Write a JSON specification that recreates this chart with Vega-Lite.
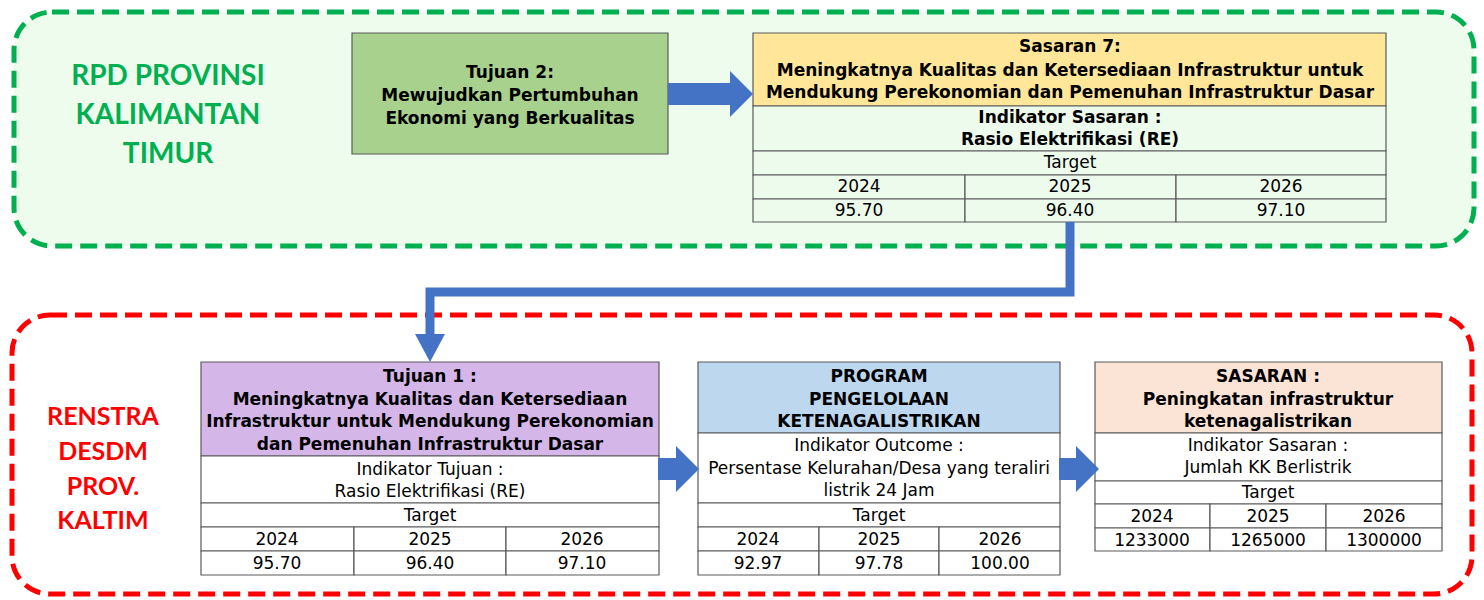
{
  "$schema": "https://vega.github.io/schema/vega-lite/v6.json",
  "width": 1484,
  "height": 600,
  "autosize": {"type": "fit", "contains": "padding"},
  "padding": 0,
  "background": "#ffffff",
  "config": {"view": {"stroke": null}},
  "resolve": {"scale": {"fill": "independent", "stroke": "independent"}},
  "datasets": {
    "containers": [
      {"name": "rpd", "x": 14, "x2": 1474, "y": 12, "y2": 246},
      {"name": "renstra", "x": 12, "x2": 1472, "y": 315, "y2": 594}
    ],
    "cells": [
      {"role": "tujuan2", "x": 352, "x2": 668, "y": 33, "y2": 154},
      {"role": "sasaran7", "x": 753, "x2": 1386, "y": 33, "y2": 106},
      {"role": "lightgreen", "x": 753, "x2": 1386, "y": 106, "y2": 151},
      {"role": "lightgreen", "x": 753, "x2": 1386, "y": 151, "y2": 175},
      {"role": "lightgreen", "x": 753, "x2": 965, "y": 175, "y2": 199},
      {"role": "lightgreen", "x": 965, "x2": 1176, "y": 175, "y2": 199},
      {"role": "lightgreen", "x": 1176, "x2": 1386, "y": 175, "y2": 199},
      {"role": "lightgreen", "x": 753, "x2": 965, "y": 199, "y2": 222},
      {"role": "lightgreen", "x": 965, "x2": 1176, "y": 199, "y2": 222},
      {"role": "lightgreen", "x": 1176, "x2": 1386, "y": 199, "y2": 222},
      {"role": "purple", "x": 201, "x2": 659, "y": 362, "y2": 456},
      {"role": "white", "x": 201, "x2": 659, "y": 456, "y2": 503},
      {"role": "white", "x": 201, "x2": 659, "y": 503, "y2": 527},
      {"role": "white", "x": 201, "x2": 354, "y": 527, "y2": 551},
      {"role": "white", "x": 354, "x2": 506, "y": 527, "y2": 551},
      {"role": "white", "x": 506, "x2": 659, "y": 527, "y2": 551},
      {"role": "white", "x": 201, "x2": 354, "y": 551, "y2": 575},
      {"role": "white", "x": 354, "x2": 506, "y": 551, "y2": 575},
      {"role": "white", "x": 506, "x2": 659, "y": 551, "y2": 575},
      {"role": "blue", "x": 698, "x2": 1060, "y": 362, "y2": 433},
      {"role": "white", "x": 698, "x2": 1060, "y": 433, "y2": 503},
      {"role": "white", "x": 698, "x2": 1060, "y": 503, "y2": 527},
      {"role": "white", "x": 698, "x2": 819, "y": 527, "y2": 551},
      {"role": "white", "x": 819, "x2": 939, "y": 527, "y2": 551},
      {"role": "white", "x": 939, "x2": 1060, "y": 527, "y2": 551},
      {"role": "white", "x": 698, "x2": 819, "y": 551, "y2": 575},
      {"role": "white", "x": 819, "x2": 939, "y": 551, "y2": 575},
      {"role": "white", "x": 939, "x2": 1060, "y": 551, "y2": 575},
      {"role": "peach", "x": 1095, "x2": 1442, "y": 362, "y2": 433},
      {"role": "white", "x": 1095, "x2": 1442, "y": 433, "y2": 481},
      {"role": "white", "x": 1095, "x2": 1442, "y": 481, "y2": 504},
      {"role": "white", "x": 1095, "x2": 1210, "y": 504, "y2": 528},
      {"role": "white", "x": 1210, "x2": 1326, "y": 504, "y2": 528},
      {"role": "white", "x": 1326, "x2": 1442, "y": 504, "y2": 528},
      {"role": "white", "x": 1095, "x2": 1210, "y": 528, "y2": 551},
      {"role": "white", "x": 1210, "x2": 1326, "y": 528, "y2": 551},
      {"role": "white", "x": 1326, "x2": 1442, "y": 528, "y2": 551}
    ],
    "connector": [
      {"i": 1, "x": 1070, "y": 222},
      {"i": 2, "x": 1070, "y": 292},
      {"i": 3, "x": 430, "y": 292},
      {"i": 4, "x": 430, "y": 336}
    ],
    "shafts": [
      {"x": 668, "x2": 731, "y": 83, "y2": 105},
      {"x": 658, "x2": 678, "y": 458, "y2": 480},
      {"x": 1059, "x2": 1078, "y": 458, "y2": 480}
    ],
    "heads": [
      {"x": 741.5, "y": 94},
      {"x": 687.5, "y": 469},
      {"x": 1087.5, "y": 469}
    ],
    "downheads": [
      {"x": 430, "y": 348}
    ],
    "texts": [
      {"s": "green", "x": 168, "y": 77, "t": "RPD PROVINSI"},
      {"s": "green", "x": 168, "y": 116, "t": "KALIMANTAN"},
      {"s": "green", "x": 168, "y": 155, "t": "TIMUR"},
      {"s": "red", "x": 103, "y": 417, "t": "RENSTRA"},
      {"s": "red", "x": 103, "y": 452, "t": "DESDM"},
      {"s": "red", "x": 103, "y": 487, "t": "PROV."},
      {"s": "red", "x": 103, "y": 521, "t": "KALTIM"},
      {"s": "bold", "x": 510, "y": 73, "t": "Tujuan 2:"},
      {"s": "bold", "x": 510, "y": 96, "t": "Mewujudkan Pertumbuhan"},
      {"s": "bold", "x": 510, "y": 119, "t": "Ekonomi yang Berkualitas"},
      {"s": "bold", "x": 1070, "y": 47, "t": "Sasaran 7:"},
      {"s": "bold", "x": 1070, "y": 71, "t": "Meningkatnya Kualitas dan Ketersediaan Infrastruktur untuk"},
      {"s": "bold", "x": 1070, "y": 93, "t": "Mendukung Perekonomian dan Pemenuhan Infrastruktur Dasar"},
      {"s": "bold", "x": 1070, "y": 118, "t": "Indikator Sasaran :"},
      {"s": "bold", "x": 1070, "y": 140, "t": "Rasio Elektrifikasi (RE)"},
      {"s": "reg", "x": 1070, "y": 163, "t": "Target"},
      {"s": "reg", "x": 859, "y": 187, "t": "2024"},
      {"s": "reg", "x": 1070, "y": 187, "t": "2025"},
      {"s": "reg", "x": 1281, "y": 187, "t": "2026"},
      {"s": "reg", "x": 859, "y": 211, "t": "95.70"},
      {"s": "reg", "x": 1070, "y": 211, "t": "96.40"},
      {"s": "reg", "x": 1281, "y": 211, "t": "97.10"},
      {"s": "bold", "x": 430, "y": 377, "t": "Tujuan 1 :"},
      {"s": "bold", "x": 430, "y": 400, "t": "Meningkatnya Kualitas dan Ketersediaan"},
      {"s": "bold", "x": 430, "y": 422, "t": "Infrastruktur untuk Mendukung Perekonomian"},
      {"s": "bold", "x": 430, "y": 445, "t": "dan Pemenuhan Infrastruktur Dasar"},
      {"s": "reg", "x": 430, "y": 470, "t": "Indikator Tujuan :"},
      {"s": "reg", "x": 430, "y": 492, "t": "Rasio Elektrifikasi (RE)"},
      {"s": "reg", "x": 430, "y": 516, "t": "Target"},
      {"s": "reg", "x": 277, "y": 540, "t": "2024"},
      {"s": "reg", "x": 430, "y": 540, "t": "2025"},
      {"s": "reg", "x": 582, "y": 540, "t": "2026"},
      {"s": "reg", "x": 277, "y": 564, "t": "95.70"},
      {"s": "reg", "x": 430, "y": 564, "t": "96.40"},
      {"s": "reg", "x": 582, "y": 564, "t": "97.10"},
      {"s": "bold", "x": 879, "y": 377, "t": "PROGRAM"},
      {"s": "bold", "x": 879, "y": 400, "t": "PENGELOLAAN"},
      {"s": "bold", "x": 879, "y": 422, "t": "KETENAGALISTRIKAN"},
      {"s": "reg", "x": 879, "y": 446, "t": "Indikator Outcome :"},
      {"s": "reg", "x": 879, "y": 469, "t": "Persentase Kelurahan/Desa yang teraliri"},
      {"s": "reg", "x": 879, "y": 491, "t": "listrik 24 Jam"},
      {"s": "reg", "x": 879, "y": 516, "t": "Target"},
      {"s": "reg", "x": 758, "y": 540, "t": "2024"},
      {"s": "reg", "x": 879, "y": 540, "t": "2025"},
      {"s": "reg", "x": 1000, "y": 540, "t": "2026"},
      {"s": "reg", "x": 758, "y": 564, "t": "92.97"},
      {"s": "reg", "x": 879, "y": 564, "t": "97.78"},
      {"s": "reg", "x": 1000, "y": 564, "t": "100.00"},
      {"s": "bold", "x": 1268, "y": 377, "t": "SASARAN :"},
      {"s": "bold", "x": 1268, "y": 400, "t": "Peningkatan infrastruktur"},
      {"s": "bold", "x": 1268, "y": 422, "t": "ketenagalistrikan"},
      {"s": "reg", "x": 1268, "y": 446, "t": "Indikator Sasaran :"},
      {"s": "reg", "x": 1268, "y": 468, "t": "Jumlah KK Berlistrik"},
      {"s": "reg", "x": 1268, "y": 493, "t": "Target"},
      {"s": "reg", "x": 1152, "y": 517, "t": "2024"},
      {"s": "reg", "x": 1268, "y": 517, "t": "2025"},
      {"s": "reg", "x": 1384, "y": 517, "t": "2026"},
      {"s": "reg", "x": 1152, "y": 541, "t": "1233000"},
      {"s": "reg", "x": 1268, "y": 541, "t": "1265000"},
      {"s": "reg", "x": 1384, "y": 541, "t": "1300000"}
    ]
  },
  "layer": [
    {
      "data": {"name": "containers"},
      "mark": {"type": "rect", "cornerRadius": 38, "strokeWidth": 5, "strokeDash": [17, 8]},
      "encoding": {
        "x": {"field": "x", "type": "quantitative", "scale": {"domain": [0, 1484], "nice": false, "zero": false}, "axis": null},
        "x2": {"field": "x2"},
        "y": {"field": "y", "type": "quantitative", "scale": {"domain": [0, 600], "reverse": true, "nice": false, "zero": false}, "axis": null},
        "y2": {"field": "y2"},
        "fill": {"field": "name", "type": "nominal", "scale": {"domain": ["rpd", "renstra"], "range": ["#EEFCEE", "#FFFFFF"]}, "legend": null},
        "stroke": {"field": "name", "type": "nominal", "scale": {"domain": ["rpd", "renstra"], "range": ["#00B050", "#FF0000"]}, "legend": null}
      }
    },
    {
      "data": {"name": "cells"},
      "mark": {"type": "rect", "stroke": "#5A5A5A", "strokeWidth": 1.2},
      "encoding": {
        "x": {"field": "x", "type": "quantitative", "axis": null},
        "x2": {"field": "x2"},
        "y": {"field": "y", "type": "quantitative", "axis": null},
        "y2": {"field": "y2"},
        "fill": {"field": "role", "type": "nominal", "scale": {"domain": ["tujuan2", "sasaran7", "lightgreen", "purple", "blue", "peach", "white"], "range": ["#A9D18E", "#FFE699", "#EDFBED", "#D4B6E9", "#BDD7EE", "#FBE3D6", "#FFFFFF"]}, "legend": null}
      }
    },
    {
      "data": {"name": "connector"},
      "mark": {"type": "line", "color": "#4472C4", "strokeWidth": 9, "strokeJoin": "miter", "strokeCap": "butt"},
      "encoding": {
        "x": {"field": "x", "type": "quantitative", "axis": null},
        "y": {"field": "y", "type": "quantitative", "axis": null},
        "order": {"field": "i", "type": "quantitative"}
      }
    },
    {
      "data": {"name": "shafts"},
      "mark": {"type": "rect", "color": "#4472C4"},
      "encoding": {
        "x": {"field": "x", "type": "quantitative", "axis": null},
        "x2": {"field": "x2"},
        "y": {"field": "y", "type": "quantitative", "axis": null},
        "y2": {"field": "y2"}
      }
    },
    {
      "data": {"name": "heads"},
      "mark": {"type": "point", "shape": "M-0.5,-1L0.5,0L-0.5,1Z", "size": 2116, "filled": true, "color": "#4472C4", "opacity": 1, "strokeWidth": 0},
      "encoding": {
        "x": {"field": "x", "type": "quantitative", "axis": null},
        "y": {"field": "y", "type": "quantitative", "axis": null}
      }
    },
    {
      "data": {"name": "downheads"},
      "mark": {"type": "point", "shape": "M-1,-0.93L1,-0.93L0,0.93Z", "size": 900, "filled": true, "color": "#4472C4", "opacity": 1, "strokeWidth": 0},
      "encoding": {
        "x": {"field": "x", "type": "quantitative", "axis": null},
        "y": {"field": "y", "type": "quantitative", "axis": null}
      }
    },
    {
      "data": {"name": "texts"},
      "transform": [{"filter": "datum.s === 'green'"}],
      "mark": {"type": "text", "font": "Lato", "fontWeight": "bold", "fontSize": 28, "color": "#00B050", "align": "center", "baseline": "middle"},
      "encoding": {
        "x": {"field": "x", "type": "quantitative", "axis": null},
        "y": {"field": "y", "type": "quantitative", "axis": null},
        "text": {"field": "t"}
      }
    },
    {
      "data": {"name": "texts"},
      "transform": [{"filter": "datum.s === 'red'"}],
      "mark": {"type": "text", "font": "Lato", "fontWeight": "bold", "fontSize": 25, "color": "#FF0000", "align": "center", "baseline": "middle"},
      "encoding": {
        "x": {"field": "x", "type": "quantitative", "axis": null},
        "y": {"field": "y", "type": "quantitative", "axis": null},
        "text": {"field": "t"}
      }
    },
    {
      "data": {"name": "texts"},
      "transform": [{"filter": "datum.s === 'bold'"}],
      "mark": {"type": "text", "font": "DejaVu Sans", "fontWeight": "bold", "fontSize": 17, "color": "#000000", "align": "center", "baseline": "middle"},
      "encoding": {
        "x": {"field": "x", "type": "quantitative", "axis": null},
        "y": {"field": "y", "type": "quantitative", "axis": null},
        "text": {"field": "t"}
      }
    },
    {
      "data": {"name": "texts"},
      "transform": [{"filter": "datum.s === 'reg'"}],
      "mark": {"type": "text", "font": "DejaVu Sans", "fontSize": 17, "color": "#000000", "align": "center", "baseline": "middle"},
      "encoding": {
        "x": {"field": "x", "type": "quantitative", "axis": null},
        "y": {"field": "y", "type": "quantitative", "axis": null},
        "text": {"field": "t"}
      }
    }
  ]
}
